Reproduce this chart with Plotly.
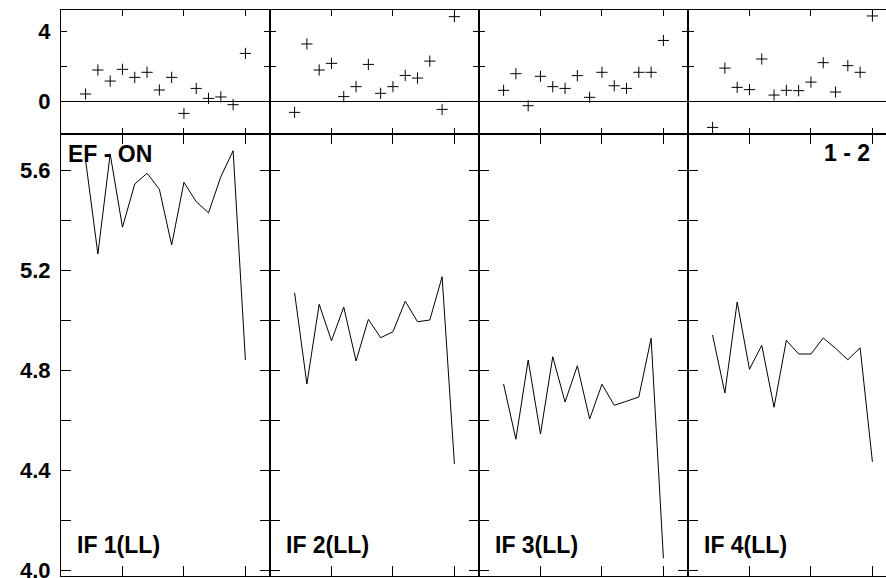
import plotly.graph_objects as go

W, H = 886, 578

scan_index = [1, 2, 3, 4, 5, 6, 7, 8, 9, 10, 11, 12, 13, 14]

panel_labels = ["IF 1(LL)", "IF 2(LL)", "IF 3(LL)", "IF 4(LL)"]

# top strip ("+" markers)
top_if1 = [0.44, 1.81, 1.18, 1.85, 1.39, 1.68, 0.67, 1.39, -0.67, 0.76, 0.19, 0.27, -0.17, 2.76]
top_if2 = [-0.61, 3.30, 1.81, 2.19, 0.29, 0.86, 2.13, 0.48, 0.86, 1.50, 1.35, 2.32, -0.44, 4.86]
top_if3 = [0.65, 1.60, -0.23, 1.45, 0.86, 0.76, 1.49, 0.25, 1.68, 0.91, 0.76, 1.68, 1.68, 3.50]
top_if4 = [-1.47, 1.92, 0.82, 0.69, 2.44, 0.38, 0.65, 0.63, 1.12, 2.23, 0.55, 2.06, 1.68, 4.90]

# bottom panel (lines)
bot_if1 = [5.64, 5.264, 5.664, 5.371, 5.544, 5.587, 5.523, 5.300, 5.551, 5.473, 5.429, 5.573, 5.677, 4.84]
bot_if2 = [5.109, 4.744, 5.063, 4.917, 5.052, 4.836, 5.003, 4.929, 4.953, 5.075, 4.993, 5.000, 5.173, 4.424]
bot_if3 = [4.744, 4.523, 4.840, 4.544, 4.853, 4.672, 4.817, 4.604, 4.743, 4.659, 4.675, 4.692, 4.927, 4.047]
bot_if4 = [4.940, 4.708, 5.072, 4.803, 4.899, 4.651, 4.919, 4.864, 4.864, 4.928, 4.887, 4.841, 4.889, 4.433]

top_series = [top_if1, top_if2, top_if3, top_if4]
bot_series = [bot_if1, bot_if2, bot_if3, bot_if4]

x_tickvals = [4, 9, 14]
top_tickvals = [0, 2, 4]
top_ticktext = ["0", "", "4"]
bot_tickvals = [4.0, 4.2, 4.4, 4.6, 4.8, 5.0, 5.2, 5.4, 5.6]
bot_ticktext = ["4.0", "", "4.4", "", "4.8", "", "5.2", "", "5.6"]

fig = go.Figure()

# geometry in pixels
left0, pw = 61, 209
top_y0, top_y1 = 10, 134
bot_y0, bot_y1 = 134, 576
unit = pw / 17.0

def px_x(p):
    return p / W

def px_y(p):
    return 1 - p / H

tickfont = dict(family="Liberation Sans, Arial, sans-serif", size=22, color="black", weight="bold")
layout = dict(width=W, height=H, margin=dict(l=0, r=0, t=0, b=0, autoexpand=False),
              paper_bgcolor="white", plot_bgcolor="white", showlegend=False)

for i in range(4):
    xl = left0 + i * pw
    xr = min(xl + pw, W)
    xmax = -1 + (xr - xl) / unit
    last = (i == 3)
    na = 2 * i + 1
    nb = 2 * i + 2
    fig.add_trace(go.Scatter(x=scan_index, y=top_series[i], mode="markers",
                             marker=dict(symbol="cross-thin", size=8, line=dict(width=1, color="black"), color="black"),
                             xaxis=f"x{na}", yaxis=f"y{na}", hoverinfo="skip"))
    fig.add_trace(go.Scatter(x=scan_index, y=bot_series[i], mode="lines",
                             line=dict(width=1, color="black"),
                             xaxis=f"x{nb}", yaxis=f"y{nb}", hoverinfo="skip"))
    common_x = dict(range=[-1, xmax], showgrid=False, zeroline=False, showline=True, linecolor="black",
                    linewidth=1, mirror="ticks", ticks="inside", tickvals=x_tickvals, showticklabels=False,
                    tickcolor="black", tickwidth=1, automargin=False)
    layout[f"xaxis{na}"] = dict(common_x, domain=[px_x(xl), px_x(xr)], anchor=f"y{na}", ticklen=6)
    layout[f"xaxis{nb}"] = dict(common_x, domain=[px_x(xl), px_x(xr)], anchor=f"y{nb}", ticklen=10)
    common_y = dict(showgrid=False, showline=True, linecolor="black", linewidth=1,
                    mirror=(False if last else "ticks"), ticks="inside", tickcolor="black", tickwidth=1,
                    showticklabels=(i == 0), tickfont=tickfont, ticklabelstandoff=5,
                    ticklabeloverflow="allow", automargin=False)
    layout[f"yaxis{na}"] = dict(common_y, domain=[px_y(top_y1), px_y(top_y0)], anchor=f"x{na}",
                                range=[-1.846, 5.24], tickvals=top_tickvals, ticktext=top_ticktext,
                                ticklen=6, zeroline=True, zerolinecolor="black", zerolinewidth=1)
    layout[f"yaxis{nb}"] = dict(common_y, domain=[px_y(bot_y1), px_y(bot_y0)], anchor=f"x{nb}",
                                range=[3.976, 5.744], tickvals=bot_tickvals, ticktext=bot_ticktext,
                                ticklen=10, zeroline=False)

labfont = dict(family="Liberation Sans, Arial, sans-serif", size=23, color="black", weight="bold")
annotations = []
for i in range(4):
    xl = left0 + i * pw
    annotations.append(dict(text=panel_labels[i], x=px_x(xl + 14), y=px_y(545), xref="paper", yref="paper",
                            xanchor="left", yanchor="middle", showarrow=False, font=labfont))
annotations.append(dict(text="EF - ON", x=px_x(66), y=px_y(153.5), xref="paper", yref="paper",
                        xanchor="left", yanchor="middle", showarrow=False, font=labfont))
annotations.append(dict(text="1 - 2", x=px_x(872), y=px_y(153), xref="paper", yref="paper",
                        xanchor="right", yanchor="middle", showarrow=False, font=labfont))
layout["annotations"] = annotations

fig.update_layout(**layout)
fig.write_html("out.html", config={"displayModeBar": False},
               post_script="document.body.style.margin='0';document.body.style.overflow='hidden';")
